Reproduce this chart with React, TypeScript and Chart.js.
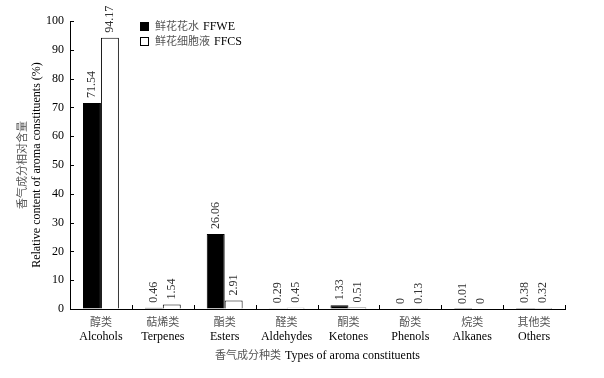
import React, { useEffect, useRef } from 'react';
import { Chart, registerables } from 'chart.js';

Chart.register(...registerables);

const categoriesZh = ['醇类', '萜烯类', '酯类', '醛类', '酮类', '酚类', '烷类', '其他类'];
const categoriesEn = ['Alcohols', 'Terpenes', 'Esters', 'Aldehydes', 'Ketones', 'Phenols', 'Alkanes', 'Others'];
const ffweValues = [71.54, 0.46, 26.06, 0.29, 1.33, 0, 0.01, 0.38];
const ffcsValues = [94.17, 1.54, 2.91, 0.45, 0.51, 0.13, 0, 0.32];
const seriesZh = ['鲜花花水', '鲜花细胞液'];
const seriesEn = ['FFWE', 'FFCS'];
const yTickValues = [0, 10, 20, 30, 40, 50, 60, 70, 80, 90, 100];
const xTitleZh = '香气成分种类';
const xTitleEn = 'Types of aroma constituents';
const yTitleZh = '香气成分相对含量';
const yTitleEn = 'Relative content of aroma constituents (%)';

const SERIF = '"Liberation Serif", "Times New Roman", serif';
const CJK = '"Noto Sans CJK SC", sans-serif';
const ZH_COLOR = '#555';

function drawMixed(ctx: CanvasRenderingContext2D, zh: string, en: string, cx: number, cy: number, align: 'center' | 'left') {
  ctx.font = `11px ${CJK}`;
  const wz = ctx.measureText(zh).width;
  ctx.font = `12px ${SERIF}`;
  const gap = 4;
  const we = ctx.measureText(en).width;
  const total = wz + gap + we;
  let x = align === 'center' ? cx - total / 2 : cx;
  ctx.textAlign = 'left';
  ctx.textBaseline = 'middle';
  ctx.font = `11px ${CJK}`;
  ctx.fillStyle = ZH_COLOR;
  ctx.fillText(zh, x, cy);
  ctx.font = `12px ${SERIF}`;
  ctx.fillStyle = '#000';
  ctx.fillText(en, x + wz + gap, cy + 1);
}

const overlayPlugin = {
  id: 'overlay',
  afterDraw(chart: any) {
    const ctx: CanvasRenderingContext2D = chart.ctx;
    const xs = chart.scales.x;
    const ys = chart.scales.y;
    const area = chart.chartArea;
    ctx.save();

    // inner tick marks
    ctx.strokeStyle = '#000';
    ctx.lineWidth = 1;
    const n = categoriesEn.length;
    for (let i = 0; i <= n; i++) {
      const x = Math.round(xs.left + (i * xs.width) / n) + 0.5;
      ctx.beginPath();
      ctx.moveTo(x, area.bottom);
      ctx.lineTo(x, area.bottom - 4);
      ctx.stroke();
    }
    yTickValues.forEach((v) => {
      const y = Math.round(ys.getPixelForValue(v)) + 0.5;
      ctx.beginPath();
      ctx.moveTo(area.left, y);
      ctx.lineTo(area.left + 4, y);
      ctx.stroke();
    });

    // data labels
    chart.data.datasets.forEach((ds: any, di: number) => {
      const meta = chart.getDatasetMeta(di);
      meta.data.forEach((el: any, i: number) => {
        const v = ds.data[i];
        ctx.save();
        ctx.translate(el.x, el.y - 5);
        ctx.rotate(-Math.PI / 2);
        ctx.font = `12px ${SERIF}`;
        ctx.fillStyle = '#333';
        ctx.textAlign = 'left';
        ctx.textBaseline = 'middle';
        ctx.fillText(String(v), 0, 0);
        ctx.restore();
      });
    });

    // x category labels
    for (let i = 0; i < n; i++) {
      const cx = xs.getPixelForValue(i);
      ctx.textAlign = 'center';
      ctx.textBaseline = 'middle';
      ctx.font = `11px ${CJK}`;
      ctx.fillStyle = ZH_COLOR;
      ctx.fillText(categoriesZh[i], cx, area.bottom + 13);
      ctx.font = `12px ${SERIF}`;
      ctx.fillStyle = '#000';
      ctx.fillText(categoriesEn[i], cx, area.bottom + 28);
    }

    // x title
    drawMixed(ctx, xTitleZh, xTitleEn, (area.left + area.right) / 2, area.bottom + 46, 'center');

    // y title
    const cy = (area.top + area.bottom) / 2;
    ctx.save();
    ctx.translate(22, cy);
    ctx.rotate(-Math.PI / 2);
    ctx.textAlign = 'center';
    ctx.textBaseline = 'middle';
    ctx.font = `11px ${CJK}`;
    ctx.fillStyle = ZH_COLOR;
    ctx.fillText(yTitleZh, 0, 0);
    ctx.restore();
    ctx.save();
    ctx.translate(37, cy);
    ctx.rotate(-Math.PI / 2);
    ctx.textAlign = 'center';
    ctx.textBaseline = 'middle';
    ctx.font = `12px ${SERIF}`;
    ctx.fillStyle = '#000';
    ctx.fillText(yTitleEn, 0, 0);
    ctx.restore();

    // legend
    const fills = ['#000', '#fff'];
    for (let k = 0; k < 2; k++) {
      const ly = 26 + k * 15;
      ctx.fillStyle = fills[k];
      ctx.fillRect(140, ly - 4, 9, 9);
      ctx.strokeStyle = '#000';
      ctx.strokeRect(140.5, ly - 3.5, 8, 8);
      drawMixed(ctx, seriesZh[k], seriesEn[k], 155, ly, 'left');
    }

    ctx.restore();
  },
};

export default function App() {
  const canvasRef = useRef<HTMLCanvasElement | null>(null);

  useEffect(() => {
    if (!canvasRef.current) return;
    const chart = new Chart(canvasRef.current, {
      type: 'bar',
      data: {
        labels: categoriesEn,
        datasets: [
          {
            label: seriesEn[0],
            data: ffweValues,
            backgroundColor: '#000',
            borderColor: '#000',
            borderWidth: 1,
          },
          {
            label: seriesEn[1],
            data: ffcsValues,
            backgroundColor: '#fff',
            borderColor: '#000',
            borderWidth: 1,
          },
        ],
      },
      options: {
        responsive: false,
        animation: false,
        devicePixelRatio: 1,
        categoryPercentage: 0.58,
        barPercentage: 1,
        layout: { padding: { top: 21, right: 39, left: 0, bottom: 0 } },
        plugins: {
          legend: { display: false },
          tooltip: { enabled: false },
          title: { display: false },
        },
        scales: {
          x: {
            ticks: { display: false },
            grid: { display: true, drawOnChartArea: false, drawTicks: false },
            border: { display: true, color: '#000', width: 1 },
            afterFit: (scale: any) => {
              scale.height = 69;
            },
          },
          y: {
            min: 0,
            max: 100,
            ticks: {
              stepSize: 10,
              padding: 6,
              color: '#000',
              font: { family: SERIF, size: 12 },
            },
            grid: { display: true, drawOnChartArea: false, drawTicks: false },
            border: { display: true, color: '#000', width: 1 },
            afterFit: (scale: any) => {
              scale.width = 70;
            },
          },
        },
      } as any,
      plugins: [overlayPlugin],
    });
    return () => chart.destroy();
  }, []);

  return (
    <div style={{ position: 'fixed', left: 0, top: 0, width: 604, height: 378, background: '#fff' }}>
      <canvas ref={canvasRef} width={604} height={378} />
    </div>
  );
}
